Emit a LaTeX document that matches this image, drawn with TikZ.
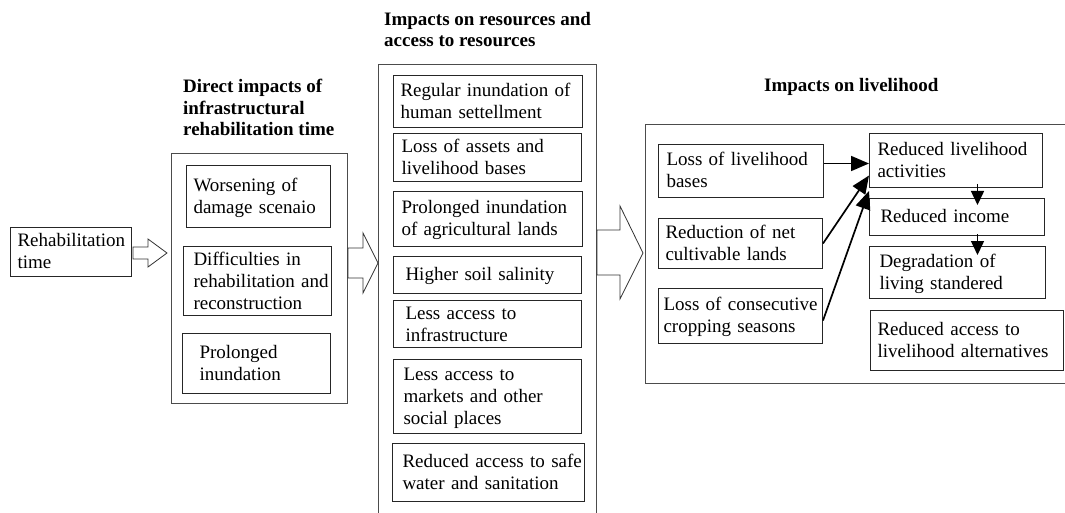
\documentclass[tikz,border=0pt]{standalone}
\usepackage{fontspec}
\setmainfont{Liberation Serif}
\usetikzlibrary{arrows.meta}
\newcommand{\boxlines}[1]{\begin{tabular}{@{}l@{}}\rule{0pt}{18.5pt}#1\end{tabular}}

\begin{document}
\begin{tikzpicture}[x=1pt,y=-1pt,
		box/.style 2 args={draw=black!85, line width=1pt, anchor=north west,
			inner xsep=7pt, inner ysep=0pt, text width=#1pt, minimum height=#2pt,
			font=\fontsize{19}{22}\selectfont},
		title/.style={anchor=north west, align=left, inner sep=0pt,
			font=\bfseries\fontsize{19}{21.5}\selectfont},
		panel/.style={draw=black!70, line width=0.9pt},
		hollow/.style={draw=black!80, line width=0.8pt, fill=white},
		link/.style={line width=1.7pt, -{Triangle[length=18pt,width=15pt]}},
		down/.style={line width=1.5pt, -{Triangle[length=14pt,width=13pt]}}]
	\useasboundingbox (0,0) rectangle (1065,513);
	% titles
	\node[title] (t1) at (183,79) {Direct impacts of\\infrastructural\\rehabilitation time};
	\node[title] (t2) at (384,12) {Impacts on resources and\\access to resources};
	\node[title] (t3) at (764,78) {Impacts on livelihood};
	% start
	\node[box={107}{49}] (rehab) at (10,227) {\boxlines{Rehabilitation\\time}};
	\draw[hollow] (133,247) -- (148,247) -- (148,239) -- (167,253) -- (148,267) -- (148,259) -- (133,259) -- cycle;
	% direct impacts
	\draw[panel] (171,153) rectangle (347,403);
	\node[box={130}{62}] (worse) at (186,165) {\boxlines{Worsening of\\damage scenaio}};
	\node[box={128}{66}, inner xsep=10pt] (diff) at (183,246) {\boxlines{Difficulties in\\rehabilitation and\\reconstruction}};
	\node[box={114}{60}, inner xsep=17pt] (prol) at (182,333) {\boxlines{Prolonged\\inundation}};
	\draw[hollow] (348,248) -- (363,248) -- (363,233) -- (378,263) -- (363,293) -- (363,278) -- (348,278) -- cycle;
	% resources
	\draw[panel] (378,514) -- (378,64) -- (596,64) -- (596,514);
	\node[box={175}{52}] (reg) at (393,75) {\boxlines{Regular inundation of\\human settellment}};
	\node[box={172}{48}, inner xsep=8pt] (assets) at (393,133) {\boxlines{Loss of assets and\\livelihood bases}};
	\node[box={173}{55}, inner xsep=8pt] (agri) at (393,191) {\boxlines{Prolonged inundation\\of agricultural lands}};
	\node[box={164}{37}, inner xsep=12pt] (salt) at (393,256) {\boxlines{Higher soil salinity}};
	\node[box={164}{47}, inner xsep=12pt] (infra) at (393,300) {\boxlines{Less access to\\infrastructure}};
	\node[box={168}{74}, inner xsep=10pt] (market) at (393,359) {\boxlines{Less access to\\markets and other\\social places}};
	\node[box={172}{58}, inner xsep=10pt] (water) at (392,443) {\boxlines{Reduced access to safe\\water and sanitation}};
	\draw[hollow] (597,230) -- (620,230) -- (620,206) -- (643,253) -- (620,299) -- (620,275) -- (597,275) -- cycle;
	% livelihood
	\draw[panel] (1066,124) -- (645,124) -- (645,383) -- (1066,383);
	\node[box={149}{53}, inner xsep=8pt] (loss) at (658,144) {\boxlines{Loss of livelihood\\bases}};
	\node[box={150}{50}] (net) at (658,218) {\boxlines{Reduction of net\\cultivable lands}};
	\node[box={154}{55}, inner xsep=5pt] (crop) at (658,288) {\boxlines{Loss of consecutive\\cropping seasons}};
	\node[box={157}{54}, inner xsep=8pt] (rla) at (869,133) {\boxlines{Reduced livelihood\\activities}};
	\node[box={153}{37}, inner xsep=11pt] (inc) at (869,198) {\boxlines{Reduced income}};
	\node[box={156}{52}, inner xsep=10pt] (deg) at (869,246) {\boxlines{Degradation of\\living standered}};
	\node[box={179}{60}] (alt) at (870,310) {\boxlines{Reduced access to\\livelihood alternatives}};
	\draw[link] ([yshift=7.5pt]loss.east) -- ([yshift=-3pt]rla.west);
	\draw[link] (net.east) -- ([yshift=-15pt]rla.west);
	\draw[link] ([yshift=-4.5pt]crop.east) -- ([yshift=-3pt]rla.south west);
	\draw[down] ([xshift=21.5pt,yshift=4pt]rla.south) -- ([xshift=20.5pt,yshift=-7pt]inc.north);
	\draw[down] ([xshift=20.5pt,yshift=2pt]inc.south) -- ([xshift=20pt,yshift=-9pt]deg.north);
\end{tikzpicture}
\end{document}
